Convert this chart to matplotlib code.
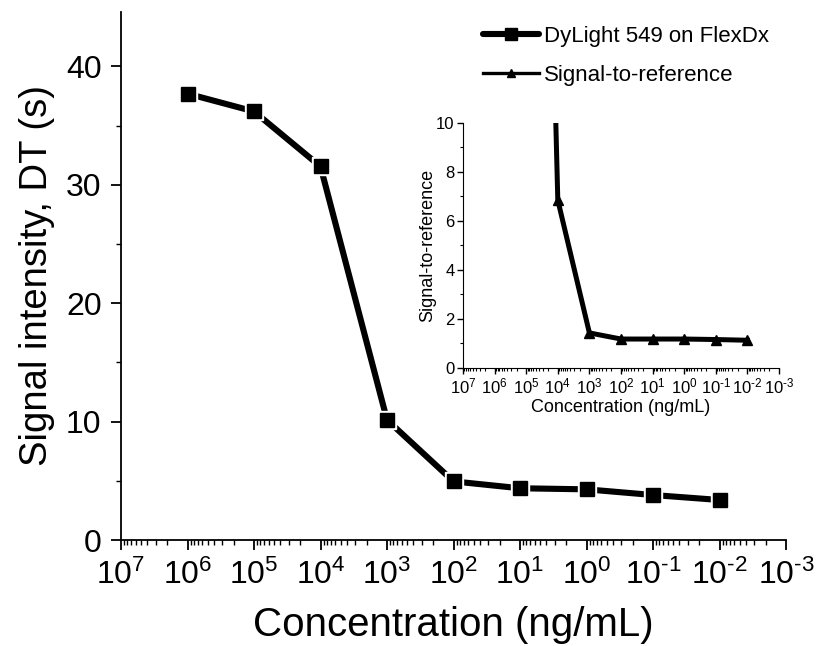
import matplotlib
matplotlib.use("Agg")
import math
import matplotlib.pyplot as plt
from matplotlib.ticker import FixedLocator, FuncFormatter, LogLocator, MultipleLocator
from matplotlib.lines import Line2D

plt.rcParams['font.family'] = ['Liberation Sans', 'DejaVu Sans']
plt.rcParams['mathtext.fontset'] = 'custom'
plt.rcParams['mathtext.rm'] = 'Liberation Sans'
plt.rcParams['mathtext.it'] = 'Liberation Sans'

# main curve: DyLight 549 on FlexDx
conc = [1e6, 1e5, 1e4, 1e3, 1e2, 1e1, 1e0, 1e-1, 1e-2]
signal_dt = [37.7, 36.2, 31.55, 10.15, 4.95, 4.37, 4.28, 3.8, 3.38]

# inset: signal-to-reference (the 1e5 point lies far above the inset range)
conc_ratio = [1e5, 1e4, 1e3, 1e2, 1e1, 1e0, 1e-1, 1e-2]
ratio = [57.0, 6.84, 1.42, 1.17, 1.17, 1.17, 1.15, 1.12]

decades = [10.0 ** e for e in range(7, -4, -1)]


def pow_label(v, pos):
    e = int(round(math.log10(v)))
    # short hyphen instead of the long mathtext minus
    exp = str(e).replace('-', '\u2010')
    return r'$\mathregular{10^{%s}}$' % exp


W, H = 816, 646
fig = plt.figure(figsize=(W / 100, H / 100), dpi=100)

ax = fig.add_axes([121 / W, 1 - 540 / H, 665 / W, 528 / H])
ax.plot(conc, signal_dt, color='black', lw=4.4, solid_capstyle='round', zorder=2)
ax.plot(conc, signal_dt, ls='none', marker='s', ms=13.4, color='white', zorder=3)
ax.plot(conc, signal_dt, ls='none', marker='s', ms=10.6, color='black', zorder=4)
ax.set_xscale('log')
ax.set_xlim(1e7, 1e-3)
ax.set_ylim(0, 44.6)
ax.xaxis.set_major_locator(FixedLocator(decades))
ax.xaxis.set_minor_locator(LogLocator(base=10, subs=range(2, 10), numticks=30))
ax.xaxis.set_major_formatter(FuncFormatter(pow_label))
ax.yaxis.set_major_locator(MultipleLocator(10))
ax.yaxis.set_minor_locator(MultipleLocator(5))
for s in ['top', 'right']:
    ax.spines[s].set_visible(False)
for s in ['left', 'bottom']:
    ax.spines[s].set_linewidth(1.3)
ax.tick_params(which='major', direction='out', length=7, width=1.3, labelsize=23, pad=7)
ax.tick_params(which='minor', direction='out', length=3.5, width=1.0)
ax.set_xlabel('Concentration (ng/mL)', fontsize=29, labelpad=11)
ax.set_ylabel('Signal intensity, DT (s)', fontsize=27.5, labelpad=8)

ins = fig.add_axes([463 / W, 1 - 367.7 / H, 316 / W, 245 / H])
ins.patch.set_alpha(0)
ins.plot(conc_ratio, ratio, color='black', lw=3.6, marker='^', ms=7.5, clip_on=True)
ins.set_xscale('log')
ins.set_xlim(1e7, 1e-3)
ins.set_ylim(0, 10)
ins.xaxis.set_major_locator(FixedLocator(decades))
ins.xaxis.set_minor_locator(LogLocator(base=10, subs=range(2, 10), numticks=30))
ins.xaxis.set_major_formatter(FuncFormatter(pow_label))
ins.yaxis.set_major_locator(MultipleLocator(2))
ins.yaxis.set_minor_locator(MultipleLocator(1))
for s in ['top', 'right']:
    ins.spines[s].set_visible(False)
ins.tick_params(which='major', direction='out', length=4, width=1.0, labelsize=12, pad=2)
ins.tick_params(which='minor', direction='out', length=2, width=0.8)
ins.set_xlabel('Concentration (ng/mL)', fontsize=13, labelpad=2)
ins.set_ylabel('Signal-to-reference', fontsize=13, labelpad=0)

handles = [
    Line2D([], [], color='black', lw=4.4, marker='s', ms=8.5, solid_capstyle='round'),
    Line2D([], [], color='black', lw=2.4, marker='^', ms=6),
]
fig.legend(handles, ['DyLight 549 on FlexDx', 'Signal-to-reference'],
           loc='upper left', bbox_to_anchor=(483 / W, 1 - 26 / H),
           frameon=False, fontsize=16, borderpad=0, borderaxespad=0,
           handlelength=2.5, handletextpad=0.25, labelspacing=0.8)

fig.savefig('out.png', dpi=100)
